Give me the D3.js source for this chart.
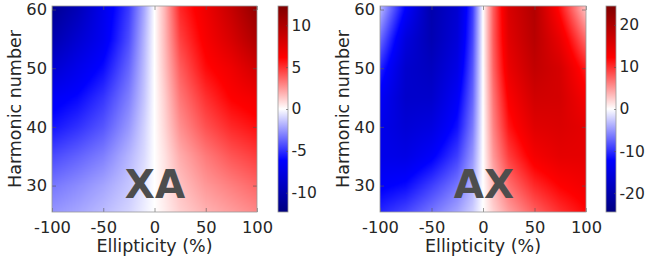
<!DOCTYPE html>
<html>
<head>
<meta charset="utf-8">
<script src="https://cdn.jsdelivr.net/npm/d3@7"></script>
<style>
  body { margin: 0; background: #fff; }
  svg { display: block; font-family: "DejaVu Sans", sans-serif; }
</style>
</head>
<body>
<svg id="chart" width="646" height="266"></svg>
<script>
'use strict';

// grid: ellipticity columns, harmonic rows
var ellipticity = [-100, -75, -50, -25, -10, 0, 10, 25, 50, 75, 100];
var harmonics = [25, 30, 35, 40, 45, 50, 55, 60];

var xaValues = [
  [-2.5, -2.1, -1.6, -1.0, -0.4, 0, 0.4, 1.1, 1.8, 2.3, 2.8],
  [-3.3, -2.8, -2.2, -1.4, -0.6, 0, 0.6, 1.5, 2.5, 3.1, 3.7],
  [-4.4, -3.8, -3.1, -1.8, -0.9, 0, 0.7, 2.0, 3.2, 4.1, 4.7],
  [-5.7, -5.0, -4.1, -2.5, -1.1, 0, 1.0, 2.7, 4.2, 5.2, 5.8],
  [-6.6, -6.0, -4.9, -3.1, -1.4, 0, 1.2, 3.3, 5.0, 6.2, 6.8],
  [-8.4, -7.1, -5.9, -3.7, -1.6, 0, 1.5, 3.9, 5.9, 6.9, 8.4],
  [-10.1, -8.4, -6.8, -4.3, -1.8, 0, 1.7, 4.6, 6.5, 8.1, 10.1],
  [-11.3, -9.6, -7.1, -4.7, -2.1, 0, 1.8, 5.2, 6.9, 8.9, 11.3]
];

var axValues = [
  [-10.3, -8.6, -6.4, -4.2, -2.2, 0, 2.0, 4.4, 7.4, 9.8, 11.8],
  [-12.7, -11.8, -9.3, -6.6, -3.7, 0, 3.4, 6.9, 10.3, 12.3, 13.5],
  [-14.2, -14.7, -12.7, -9.3, -5.1, 0, 4.9, 9.3, 13.2, 14.7, 14.7],
  [-14.2, -16.2, -15.2, -11.5, -6.4, 0, 5.9, 11.3, 15.2, 15.7, 14.7],
  [-13.0, -17.2, -17.2, -13.0, -7.4, 0, 6.6, 12.7, 16.7, 16.4, 13.0],
  [-10.5, -17.0, -18.4, -14.7, -8.1, 0, 7.4, 14.2, 18.1, 16.2, 10.8],
  [-7.0, -15.5, -19.6, -15.9, -8.8, 0, 7.8, 15.2, 19.1, 14.2, 7.0],
  [-3.5, -12.5, -20.1, -16.7, -9.3, 0, 7.8, 15.9, 19.6, 11.5, 3.0]
];

var xTicks = [-100, -50, 0, 50, 100];
var yTicks = [30, 40, 50, 60];
var xaBarTicks = [-10, -5, 0, 5, 10];
var axBarTicks = [-20, -10, 0, 10, 20];

var panels = [
  { label: 'XA', values: xaValues, limit: 12.3, barTicks: xaBarTicks, left: 52, right: 257, barLeft: 278, labelX: 155 },
  { label: 'AX', values: axValues, limit: 24.5, barTicks: axBarTicks, left: 380, right: 586, barLeft: 606, labelX: 484 }
];

var plotTop = 6, plotBottom = 212, barWidth = 10;
var textColor = '#262626', frameColor = '#9a9a9a';
var plain = function (d) { return String(d); };
var svg = d3.select('#chart');

var colorFor = function (limit) {
  return d3.scaleLinear()
    .domain([-limit, -limit / 2, 0, limit / 2, limit])
    .range(['#00007f', '#0000ff', '#ffffff', '#ff0000', '#7f0000'])
    .clamp(true);
};

// bilinear lookup in the read grid
var lookup = function (values, e, h) {
  var i = Math.min(Math.max(d3.bisectRight(ellipticity, e) - 1, 0), ellipticity.length - 2);
  var j = Math.min(Math.max(d3.bisectRight(harmonics, h) - 1, 0), harmonics.length - 2);
  var tx = (e - ellipticity[i]) / (ellipticity[i + 1] - ellipticity[i]);
  var ty = (h - harmonics[j]) / (harmonics[j + 1] - harmonics[j]);
  tx = Math.max(0, Math.min(1, tx));
  ty = Math.max(0, Math.min(1, ty));
  var a = values[j][i] * (1 - tx) + values[j][i + 1] * tx;
  var b = values[j + 1][i] * (1 - tx) + values[j + 1][i + 1] * tx;
  return a * (1 - ty) + b * ty;
};

panels.forEach(function (p, k) {
  var x = d3.scaleLinear().domain([-100, 100]).range([p.left, p.right]);
  var y = d3.scaleLinear().domain([25.5, 60.6]).range([plotBottom, plotTop]);
  var color = colorFor(p.limit);
  var g = svg.append('g');

  // heat map painted on a canvas, then placed as an image
  var w = p.right - p.left, h = plotBottom - plotTop;
  var canvas = document.createElement('canvas');
  canvas.width = w;
  canvas.height = h;
  var ctx = canvas.getContext('2d');
  var img = ctx.createImageData(w, h);
  for (var py = 0; py < h; py++) {
    for (var px = 0; px < w; px++) {
      var v = lookup(p.values, x.invert(p.left + px + 0.5), y.invert(plotTop + py + 0.5));
      var c = d3.rgb(color(v));
      var o = (py * w + px) * 4;
      img.data[o] = c.r;
      img.data[o + 1] = c.g;
      img.data[o + 2] = c.b;
      img.data[o + 3] = 255;
    }
  }
  ctx.putImageData(img, 0, 0);
  g.append('image')
    .attr('x', p.left)
    .attr('y', plotTop)
    .attr('width', w)
    .attr('height', h)
    .attr('preserveAspectRatio', 'none')
    .attr('href', canvas.toDataURL());

  // axes with inward ticks
  g.append('g')
    .attr('transform', 'translate(0,' + plotBottom + ')')
    .call(d3.axisBottom(x).tickValues(xTicks).tickFormat(plain).tickSizeInner(-4).tickSizeOuter(0).tickPadding(9));
  g.append('g')
    .attr('transform', 'translate(' + p.left + ',0)')
    .call(d3.axisLeft(y).tickValues(yTicks).tickFormat(plain).tickSizeInner(-4).tickSizeOuter(0).tickPadding(5));
  g.append('g')
    .attr('transform', 'translate(0,' + plotTop + ')')
    .call(d3.axisTop(x).tickValues(xTicks).tickSizeInner(-4).tickSizeOuter(0).tickFormat(''));
  g.append('g')
    .attr('transform', 'translate(' + p.right + ',0)')
    .call(d3.axisRight(y).tickValues(yTicks).tickSizeInner(-4).tickSizeOuter(0).tickFormat(''));

  g.selectAll('.domain').remove();
  g.selectAll('.tick line').attr('stroke', '#555').attr('stroke-width', 0.6);
  g.selectAll('.tick text').attr('fill', textColor).style('font-size', '16.3px').style('font-family', '"DejaVu Sans", sans-serif');

  g.append('rect')
    .attr('x', p.left)
    .attr('y', plotTop)
    .attr('width', w)
    .attr('height', h)
    .attr('fill', 'none')
    .attr('stroke', frameColor)
    .attr('stroke-width', 0.8);

  g.append('text')
    .attr('x', (p.left + p.right) / 2)
    .attr('y', 252)
    .attr('text-anchor', 'middle')
    .attr('fill', textColor)
    .style('font-size', '17.5px')
    .text('Ellipticity (%)');

  g.append('text')
    .attr('transform', 'translate(' + (p.left - 31) + ',' + ((plotTop + plotBottom) / 2) + ') rotate(-90)')
    .attr('text-anchor', 'middle')
    .attr('fill', textColor)
    .style('font-size', '17.5px')
    .text('Harmonic number');

  g.append('text')
    .attr('x', p.labelX)
    .attr('y', 198)
    .attr('text-anchor', 'middle')
    .attr('fill', '#4d4d4d')
    .style('font-size', '39px')
    .style('font-weight', 'bold')
    .text(p.label);

  // colour bar
  var gradId = 'grad' + k;
  var grad = svg.append('defs').append('linearGradient')
    .attr('id', gradId)
    .attr('x1', 0).attr('y1', 1).attr('x2', 0).attr('y2', 0);
  grad.selectAll('stop')
    .data(color.domain())
    .enter()
    .append('stop')
    .attr('offset', function (d) { return (d + p.limit) / (2 * p.limit); })
    .attr('stop-color', function (d) { return color(d); });

  var cb = d3.scaleLinear().domain([-p.limit, p.limit]).range([plotBottom, plotTop]);
  g.append('rect')
    .attr('x', p.barLeft)
    .attr('y', plotTop)
    .attr('width', barWidth)
    .attr('height', h)
    .attr('fill', 'url(#' + gradId + ')')
    .attr('stroke', frameColor)
    .attr('stroke-width', 0.8);

  var barAxis = g.append('g')
    .attr('transform', 'translate(' + (p.barLeft + barWidth) + ',0)')
    .call(d3.axisRight(cb).tickValues(p.barTicks).tickFormat(plain).tickSizeInner(-2).tickSizeOuter(0).tickPadding(3.5));
  barAxis.select('.domain').remove();
  barAxis.selectAll('.tick line').attr('stroke', '#555').attr('stroke-width', 0.6);
  barAxis.selectAll('.tick text').attr('fill', textColor).style('font-size', '15.5px').style('font-family', '"DejaVu Sans", sans-serif');
});
</script>
</body>
</html>
